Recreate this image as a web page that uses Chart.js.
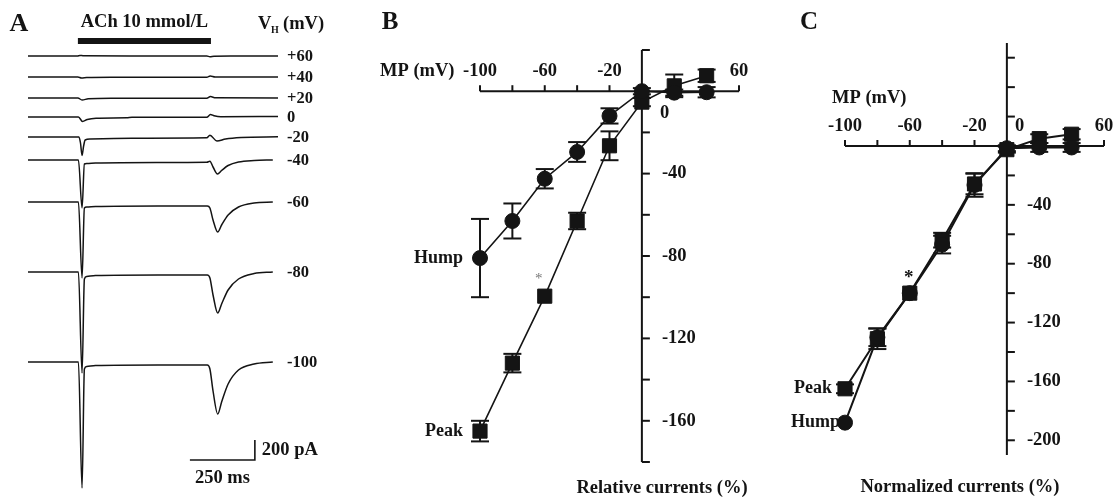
<!DOCTYPE html>
<html>
<head>
<meta charset="utf-8">
<script src="https://cdn.jsdelivr.net/npm/chart.js@4.4.1/dist/chart.umd.min.js"></script>
<style>
  body { margin: 0; background: #fff; }
  .panel { position: absolute; top: 0; }
</style>
</head>
<body>
<div class="panel" style="left:0"><canvas id="traceChart" width="370" height="498"></canvas></div>
<div class="panel" style="left:370px"><canvas id="relChart" width="380" height="498"></canvas></div>
<div class="panel" style="left:780px"><canvas id="normChart" width="335" height="498"></canvas></div>
<script>
// ---- data: panel A current traces, [time ms, current pA relative to holding] ----
const holdingLabels = ['+60', '+40', '+20', '0', '-20', '-40', '-60', '-80', '-100'];
const tP60 = [[0,0],[190,0],[200,6],[214,2],[420,0],[688,0],[700,-7],[716,-2],[780,0],[962,0]];
const tP40 = [[0,0],[192,0],[206,-10],[226,-5],[320,-2],[688,-2],[701,10],[720,0],[962,0]];
const tP20 = [[0,0],[192,0],[208,-20],[232,-8],[320,-3],[688,-3],[702,14],[722,2],[962,0]];
const t0 = [[0,0],[194,0],[210,-45],[228,-25],[262,-12],[380,-8],[400,-3],[688,-3],[702,25],[716,12],[742,2],[962,5]];
const tM20 = [[0,0],[196,0],[202,-60],[208,-185],[214,-90],[220,-30],[240,-20],[400,-12],[688,-8],[700,18],[727,-40],[760,-20],[820,-5],[962,2]];
const tM40 = [[0,0],[194,0],[208,-480],[217,-40],[226,-35],[260,-30],[500,-25],[688,-22],[700,-12],[712,-70],[729,-140],[745,-105],[770,-55],[810,-20],[870,-5],[942,0]];
const tM60 = [[0,0],[194,0],[208,-760],[217,-60],[226,-50],[260,-45],[500,-40],[690,-40],[700,-60],[712,-180],[730,-300],[745,-230],[770,-130],[810,-50],[870,-10],[942,0]];
const tM80 = [[0,0],[194,0],[208,-1010],[217,-70],[226,-45],[260,-35],[500,-30],[690,-30],[700,-60],[712,-230],[730,-410],[745,-320],[770,-180],[810,-70],[870,-15],[942,0]];
const tM100 = [[0,0],[194,0],[208,-1260],[217,-70],[226,-45],[260,-35],[500,-30],[690,-30],[700,-70],[712,-290],[730,-520],[745,-400],[770,-220],[810,-80],[870,-20],[942,0]];
const traces = [tP60, tP40, tP20, t0, tM20, tM40, tM60, tM80, tM100];
const achOn = 192, achOff = 704;          // ms
const scaleBarMs = 250, scaleBarPA = 200;

// ---- data: panels B and C, I-V relations ----
const mp = [-100, -80, -60, -40, -20, 0, 20, 40];
const humpRel = [-81, -63, -42.5, -29.5, -12, 0, -0.7, -0.5];
const humpRelErr = [19, 8.5, 4.7, 4.8, 3.7, 1.5, 1.5, 2.5];
const peakRel = [-165, -132, -99.5, -63, -26.5, -5.3, 2.6, 7.5];
const peakRelErr = [5, 4.5, 0, 4, 7, 2, 5.5, 3];
const peakNorm = [-165, -131, -100, -64, -25.8, -2.5, 5, 8];
const peakNormErr = [3, 7, 0, 5, 7, 2, 3, 3.5];
const humpNorm = [-188, -130, -100, -67, -26.5, -1.5, -1, -1];
const humpNormErr = [0, 6, 0, 6, 8, 2, 3, 3];
const mpTicks = [-100, -80, -60, -40, -20, 0, 20, 40, 60];
const mpTickLabels = [-100, -60, -20, 60];
const relTicks = [20, 0, -20, -40, -60, -80, -100, -120, -140, -160, -180];
const relTickLabels = [-40, -80, -120, -160];
const normTicks = [60, 40, 20, 0, -20, -40, -60, -80, -100, -120, -140, -160, -180, -200];
const normTickLabels = [-40, -80, -120, -160, -200];

// ---- layout ----
const ink = '#141414';
const traceOffsets = [0, -210, -420, -610, -810, -1040, -1460, -2160, -3060];
const scaleBarAt = 623, scaleBarLevel = -4040;
const serif = (size, weight = 'bold') => `${weight} ${size}px "Liberation Serif", "Times New Roman", serif`;

function text(ctx, str, x, y, size, align, weight, color) {
  ctx.font = serif(size, weight);
  ctx.textAlign = align || 'left';
  ctx.textBaseline = 'middle';
  ctx.fillStyle = color || ink;
  ctx.fillText(str, x, y);
}

function line(ctx, x0, y0, x1, y1) {
  ctx.beginPath(); ctx.moveTo(x0, y0); ctx.lineTo(x1, y1); ctx.stroke();
}

// Panel A
const tracePlugin = {
  id: 'tracePlugin',
  afterDraw(chart) {
    const ctx = chart.ctx, xs = chart.scales.x, ys = chart.scales.y;
    ctx.save();
    ctx.fillStyle = ink; ctx.strokeStyle = ink;
    const x0 = xs.getPixelForValue(achOn), x1 = xs.getPixelForValue(achOff);
    ctx.fillRect(x0, 38, x1 - x0, 6);
    text(ctx, 'A', 19, 24, 26, 'center');
    text(ctx, 'ACh 10 mmol/L', (x0 + x1) / 2, 22, 18.5, 'center');
    text(ctx, 'V', 258, 24, 18.5, 'left');
    text(ctx, 'H', 271, 30, 10, 'left');
    text(ctx, '(mV)', 283, 24, 18.5, 'left');
    holdingLabels.forEach((lab, i) => text(ctx, lab, 287, ys.getPixelForValue(traceOffsets[i]) + 1, 16.5, 'left'));
    const sx0 = xs.getPixelForValue(scaleBarAt), sx1 = xs.getPixelForValue(scaleBarAt + scaleBarMs);
    const sy0 = ys.getPixelForValue(scaleBarLevel), sy1 = ys.getPixelForValue(scaleBarLevel + scaleBarPA);
    ctx.lineWidth = 1.6;
    ctx.beginPath(); ctx.moveTo(sx0, sy0); ctx.lineTo(sx1, sy0); ctx.lineTo(sx1, sy1); ctx.stroke();
    text(ctx, '200 pA', sx1 + 7, (sy0 + sy1) / 2, 18.5, 'left');
    text(ctx, '250 ms', (sx0 + sx1) / 2, 478, 18.5, 'center');
    ctx.restore();
  }
};

new Chart(document.getElementById('traceChart'), {
  type: 'scatter',
  data: {
    datasets: traces.map((tr, i) => ({
      data: tr.map(p => ({ x: p[0], y: p[1] + traceOffsets[i] })),
      showLine: true,
      pointRadius: 0,
      borderColor: ink,
      borderWidth: 1.5,
      cubicInterpolationMode: 'monotone'
    }))
  },
  options: {
    responsive: false,
    animation: false,
    devicePixelRatio: 1,
    layout: { padding: { left: 28, right: 92, top: 46, bottom: 2 } },
    plugins: { legend: { display: false }, tooltip: { enabled: false } },
    scales: {
      x: { type: 'linear', display: false, min: 0, max: 962 },
      y: { type: 'linear', display: false, min: -4400, max: 100 }
    }
  },
  plugins: [tracePlugin]
});

// Panels B and C: axes through the origin, error bars, annotations
function ivPlugin(cfg) {
  return {
    id: 'iv' + cfg.letter,
    beforeDatasetsDraw(chart) {
      const ctx = chart.ctx, xs = chart.scales.x, ys = chart.scales.y;
      ctx.save();
      ctx.strokeStyle = ink; ctx.lineWidth = 2;
      const ax = xs.getPixelForValue(0), ay = ys.getPixelForValue(0);
      // x axis
      line(ctx, xs.getPixelForValue(mpTicks[0]), ay, xs.getPixelForValue(mpTicks[mpTicks.length - 1]), ay);
      mpTicks.forEach(v => { const px = xs.getPixelForValue(v); line(ctx, px, ay, px, ay - 6); });
      // y axis
      line(ctx, ax, ys.getPixelForValue(cfg.yTop), ax, ys.getPixelForValue(cfg.yBottom));
      cfg.yTicks.forEach(v => { const py = ys.getPixelForValue(v); line(ctx, ax, py, ax + 8, py); });
      // error bars
      ctx.lineWidth = 2;
      chart.data.datasets.forEach(ds => {
        ds.data.forEach((p, i) => {
          const e = ds.errors[i];
          if (!e) return;
          const px = xs.getPixelForValue(p.x);
          const top = ys.getPixelForValue(p.y + e), bot = ys.getPixelForValue(p.y - e);
          line(ctx, px, top, px, bot);
          line(ctx, px - 9, top, px + 9, top);
          line(ctx, px - 9, bot, px + 9, bot);
        });
      });
      ctx.restore();
    },
    afterDraw(chart) {
      const ctx = chart.ctx, xs = chart.scales.x, ys = chart.scales.y;
      const ax = xs.getPixelForValue(0), ay = ys.getPixelForValue(0);
      const off = chart.canvas.parentNode.offsetLeft;
      ctx.save();
      mpTickLabels.forEach(v => text(ctx, String(v), xs.getPixelForValue(v), ay - 20, 18.5, 'center'));
      cfg.yLabels.forEach(v => text(ctx, String(v), ax + 20, ys.getPixelForValue(v), 18.5, 'left'));
      text(ctx, '0', ax + cfg.zero[0], ay + cfg.zero[1], 18.5, 'left');
      text(ctx, 'MP (mV)', cfg.mpLabel[0] - off, cfg.mpLabel[1], 18.5, 'left');
      text(ctx, cfg.letter, cfg.letterPos[0] - off, cfg.letterPos[1], 25, 'center');
      text(ctx, cfg.title, cfg.titlePos[0] - off, cfg.titlePos[1], 18.5, 'center');
      // series names next to first point
      chart.data.datasets.forEach(ds => {
        const p = ds.data[0];
        text(ctx, ds.label, xs.getPixelForValue(p.x) - ds.labelGap, ys.getPixelForValue(p.y), 18, 'right');
      });
      // significance mark above -60 mV peak
      const sp = chart.data.datasets[1].data[2];
      text(ctx, '*', xs.getPixelForValue(sp.x) + cfg.star.dx, ys.getPixelForValue(sp.y) + cfg.star.dy,
           cfg.star.size, 'center', cfg.star.weight, cfg.star.color);
      ctx.restore();
    }
  };
}

function ivChart(id, hump, humpErr, peak, peakErr, cfg) {
  const series = (label, vals, errs, style, radius, gap) => ({
    label: label,
    data: mp.map((v, i) => ({ x: v, y: vals[i] })),
    errors: errs,
    labelGap: gap,
    showLine: true,
    clip: false,
    borderColor: ink,
    borderWidth: cfg.lineWidth,
    backgroundColor: ink,
    pointStyle: style,
    pointRadius: radius,
    pointBorderWidth: 1,
    pointBorderColor: ink,
    pointBackgroundColor: ink
  });
  new Chart(document.getElementById(id), {
    type: 'scatter',
    data: {
      datasets: [
        series('Hump', hump, humpErr, 'circle', 7.5, cfg.humpGap),
        series('Peak', peak, peakErr, 'rect', 10, cfg.peakGap)
      ]
    },
    options: {
      responsive: false,
      animation: false,
      devicePixelRatio: 1,
      layout: { padding: cfg.padding },
      plugins: { legend: { display: false }, tooltip: { enabled: false } },
      scales: {
        x: { type: 'linear', display: false, min: -100, max: 60 },
        y: { type: 'linear', display: false, min: cfg.yBottom, max: cfg.yTop }
      }
    },
    plugins: [ivPlugin(cfg)]
  });
}

ivChart('relChart', humpRel, humpRelErr, peakRel, peakRelErr, {
  letter: 'B', letterPos: [390, 23],
  padding: { left: 110, right: 10, top: 50, bottom: 36 },
  yTop: 20, yBottom: -180, yTicks: relTicks, yLabels: relTickLabels,
  zero: [18, 22], mpLabel: [380, 71],
  title: 'Relative currents (%)', titlePos: [662, 488],
  humpGap: 17, peakGap: 17, lineWidth: 1.6,
  star: { dx: -6, dy: -17, size: 15, weight: 'normal', color: '#777' }
});

ivChart('normChart', humpNorm, humpNormErr, peakNorm, peakNormErr, {
  letter: 'C', letterPos: [809, 23],
  padding: { left: 65, right: 9, top: 43, bottom: 43 },
  yTop: 70, yBottom: -210, yTicks: normTicks, yLabels: normTickLabels,
  zero: [8, -20], mpLabel: [832, 98],
  title: 'Normalized currents (%)', titlePos: [960, 487],
  humpGap: 5, peakGap: 13, lineWidth: 2,
  star: { dx: -1, dy: -15, size: 19, weight: 'bold', color: ink }
});
</script>
</body>
</html>
